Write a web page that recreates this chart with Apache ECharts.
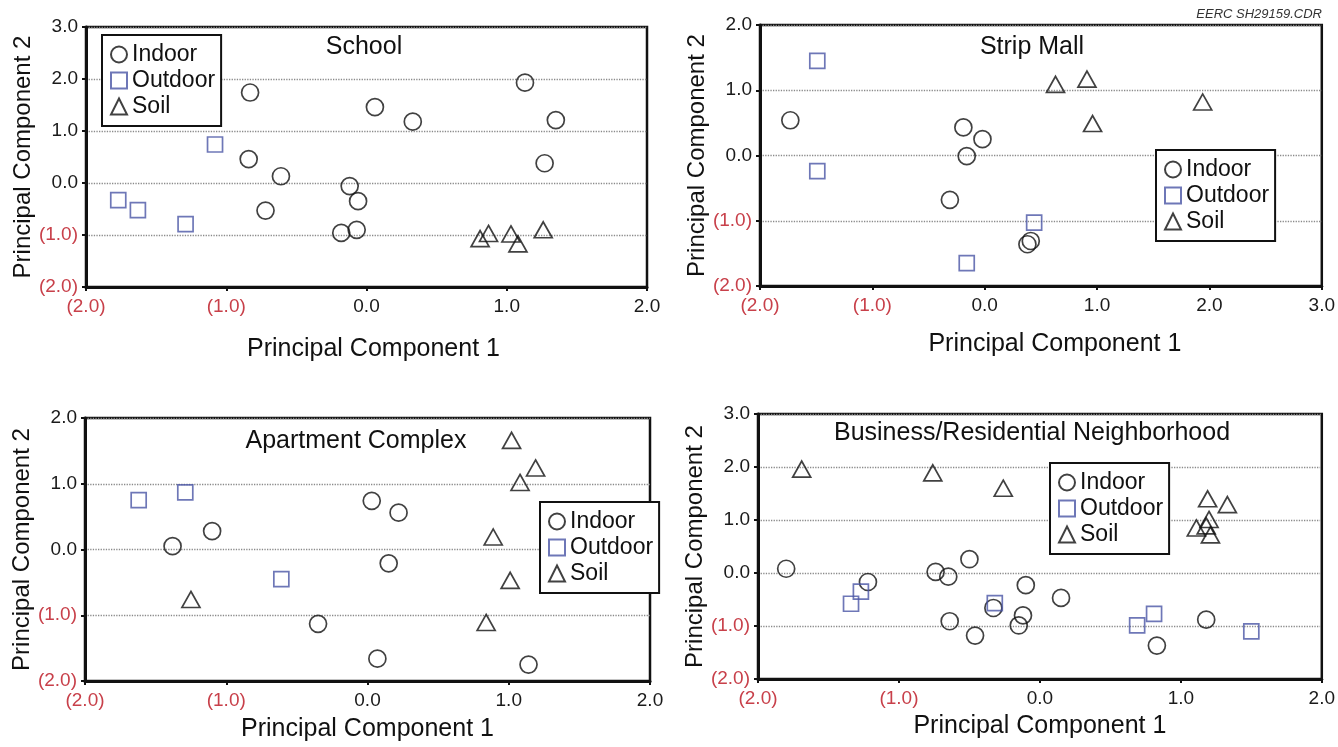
<!DOCTYPE html>
<html>
<head>
<meta charset="utf-8">
<title>PCA scatter</title>
<script src="https://cdn.jsdelivr.net/npm/echarts@6/dist/echarts.min.js"></script>
<style>
  html, body { margin: 0; padding: 0; background: #fff; }
  #main { width: 1338px; height: 747px; }
</style>
</head>
<body>
<div id="main"></div>
<script>
// panel titles
const panelTitles = ['School', 'Strip Mall', 'Apartment Complex', 'Business/Residential Neighborhood']
const groupNames = ['Indoor', 'Outdoor', 'Soil']

// axis ranges [min, max] per panel
const xRanges = [[-2, 2], [-2, 3], [-2, 2], [-2, 2]]
const yRanges = [[-2, 3], [-2, 2], [-2, 2], [-2, 3]]

// School
const schoolIndoor = [
    [-0.83, 1.74], [0.06, 1.46], [0.33, 1.18], [1.13, 1.93], [1.35, 1.21],
    [1.27, 0.38], [-0.84, 0.46], [-0.61, 0.13], [-0.72, -0.53], [-0.12, -0.06],
    [-0.06, -0.35], [-0.18, -0.96], [-0.07, -0.90]
]
const schoolOutdoor = [[-1.08, 0.74], [-1.77, -0.33], [-1.63, -0.52], [-1.29, -0.79]]
const schoolSoil = [[0.81, -1.07], [0.87, -0.97], [1.03, -0.98], [1.08, -1.17], [1.26, -0.90]]

// Strip Mall
const mallIndoor = [
    [-1.73, 0.54], [-0.19, 0.43], [-0.02, 0.25], [-0.16, -0.01],
    [-0.31, -0.68], [0.38, -1.36], [0.41, -1.31]
]
const mallOutdoor = [[-1.49, 1.45], [-1.49, -0.24], [0.44, -1.03], [-0.16, -1.65]]
const mallSoil = [[0.63, 1.09], [0.91, 1.17], [0.96, 0.49], [1.94, 0.82]]

// Apartment Complex
const aptIndoor = [
    [-1.38, 0.05], [-1.10, 0.28], [0.03, 0.74], [0.22, 0.56],
    [0.15, -0.21], [-0.35, -1.13], [0.07, -1.66], [1.14, -1.75]
]
const aptOutdoor = [[-1.62, 0.75], [-1.29, 0.87], [-0.61, -0.45]]
const aptSoil = [
    [1.02, 1.66], [1.19, 1.24], [1.08, 1.02], [0.89, 0.19],
    [1.01, -0.47], [0.84, -1.11], [-1.25, -0.76]
]

// Business/Residential Neighborhood
const bizIndoor = [
    [-1.80, 0.08], [-1.22, -0.17], [-0.74, 0.02], [-0.65, -0.07], [-0.50, 0.26],
    [-0.10, -0.23], [0.15, -0.47], [-0.33, -0.66], [-0.64, -0.91], [-0.46, -1.18],
    [-0.12, -0.80], [-0.15, -0.99], [1.18, -0.88], [0.83, -1.37]
]
const bizOutdoor = [
    [-1.34, -0.58], [-1.27, -0.35], [-0.32, -0.57],
    [0.69, -0.99], [0.81, -0.77], [1.50, -1.10]
]
const bizSoil = [
    [-1.69, 1.96], [-0.76, 1.89], [-0.26, 1.60], [1.19, 1.40], [1.33, 1.29],
    [1.20, 1.01], [1.11, 0.85], [1.18, 0.89], [1.21, 0.72]
]

const panelData = [
    [schoolIndoor, schoolOutdoor, schoolSoil],
    [mallIndoor, mallOutdoor, mallSoil],
    [aptIndoor, aptOutdoor, aptSoil],
    [bizIndoor, bizOutdoor, bizSoil]
]

// layout
const grids = [
    { left: 86, top: 27, width: 561, height: 260 },
    { left: 760, top: 25, width: 565, height: 261 },
    { left: 85, top: 418, width: 565, height: 263 },
    { left: 758, top: 414, width: 567, height: 265 }
]
const xNameGaps = [50, 46, 36, 35]
const xNamePad = [[0, 0, 0, 14], [0, 0, 0, 28], [0, 0, 0, 0], [0, 0, 0, 0]]
const legendPos = [[102, 35], [1156, 150], [540, 502], [1050, 463]]
const titlePos = [[364, 47], [1032, 47], [356, 441], [1032, 433]]

const FONT = '"Liberation Sans", Arial, sans-serif'
const RED = '#c8404a'
const BLUE = '#4a55a5'

const markerStyles = [
    { symbol: 'circle', symbolSize: 17, itemStyle: { color: 'rgba(0,0,0,0)', borderColor: '#111', borderWidth: 1.7 } },
    { symbol: 'rect', symbolSize: 15, itemStyle: { color: 'rgba(0,0,0,0)', borderColor: BLUE, borderWidth: 1.7 } },
    { symbol: 'triangle', symbolSize: [18, 16], itemStyle: { color: 'rgba(0,0,0,0)', borderColor: '#111', borderWidth: 1.7 } }
]

function tickText (v) {
    v = Number(v)
    return v < 0 ? '(' + Math.abs(v).toFixed(1) + ')' : v.toFixed(1)
}
function tickColor (v) {
    return Number(v) < 0 ? RED : '#1a1a1a'
}

const xAxis = []
const yAxis = []
const series = []
const legend = []
const graphic = []

grids.forEach((g, i) => {
    g.show = true
    g.borderColor = '#111'
    g.borderWidth = 2.5
    g.containLabel = false

    xAxis.push({
        gridIndex: i,
        type: 'value',
        min: xRanges[i][0],
        max: xRanges[i][1],
        interval: 1,
        name: 'Principal Component 1',
        nameLocation: 'middle',
        nameGap: xNameGaps[i],
        nameTextStyle: { fontFamily: FONT, fontSize: 25, color: '#111', padding: xNamePad[i] },
        axisLine: { onZero: false, lineStyle: { color: '#111', width: 3 } },
        axisTick: { show: true, length: 4, lineStyle: { color: '#111', width: 2 } },
        axisLabel: { fontFamily: FONT, fontSize: 19, margin: 10, formatter: tickText, color: tickColor },
        splitLine: { show: false }
    })
    yAxis.push({
        gridIndex: i,
        type: 'value',
        min: yRanges[i][0],
        max: yRanges[i][1],
        interval: 1,
        name: 'Principal Component 2',
        nameLocation: 'middle',
        nameGap: 49,
        nameTextStyle: { fontFamily: FONT, fontSize: 24, color: '#111' },
        axisLine: { onZero: false, lineStyle: { color: '#111', width: 3 } },
        axisTick: { show: true, length: 4, lineStyle: { color: '#111', width: 2 } },
        axisLabel: { fontFamily: FONT, fontSize: 19, margin: 8, formatter: tickText, color: tickColor },
        splitLine: { show: true, lineStyle: { color: '#8a8a8a', width: 1.3, type: 'dotted' } }
    })

    panelData[i].forEach((pts, k) => {
        series.push(Object.assign({
            name: groupNames[k],
            type: 'scatter',
            xAxisIndex: i,
            yAxisIndex: i,
            data: pts,
            z: 3
        }, markerStyles[k]))
    })

    legend.push({
        data: groupNames,
        orient: 'vertical',
        left: legendPos[i][0],
        top: legendPos[i][1],
        backgroundColor: '#fff',
        borderColor: '#111',
        borderWidth: 2,
        borderRadius: 0,
        padding: [8, 6, 8, 8],
        itemGap: 3,
        itemWidth: 16,
        itemHeight: 16,
        itemTextGap: 4,
        selectedMode: false,
        textStyle: { fontFamily: FONT, fontSize: 23, color: '#111' }
    })

    graphic.push({
        type: 'text',
        x: titlePos[i][0],
        y: titlePos[i][1],
        style: {
            text: panelTitles[i],
            fill: '#111',
            font: '25px ' + FONT,
            align: 'center',
            verticalAlign: 'middle'
        }
    })
})

graphic.push({
    type: 'text',
    x: 1322,
    y: 14,
    style: {
        text: 'EERC SH29159.CDR',
        fill: '#333',
        font: 'italic 13px ' + FONT,
        align: 'right',
        verticalAlign: 'middle'
    }
})

const chart = echarts.init(document.getElementById('main'))
chart.setOption({
    backgroundColor: '#fff',
    animation: false,
    grid: grids,
    xAxis: xAxis,
    yAxis: yAxis,
    legend: legend,
    graphic: graphic,
    series: series
})
</script>
</body>
</html>
